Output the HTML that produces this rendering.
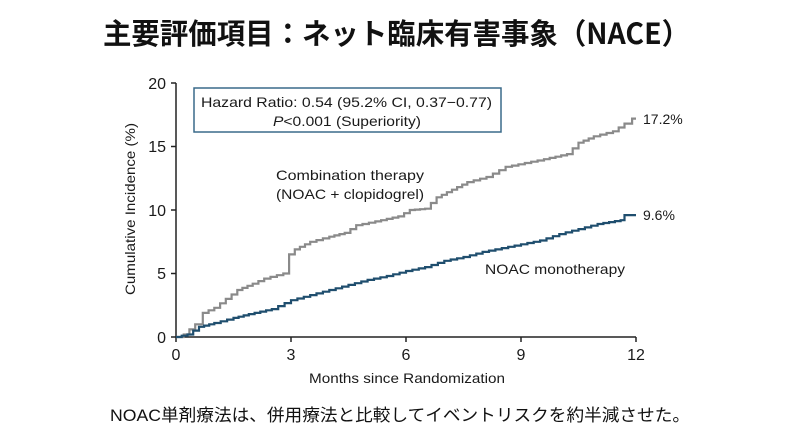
<!DOCTYPE html>
<html><head><meta charset="utf-8"><style>
html,body{margin:0;padding:0;background:#fff;}
svg{display:block}
</style></head><body>
<svg id="s" width="800" height="433" viewBox="0 0 800 433" xmlns="http://www.w3.org/2000/svg">
<rect width="800" height="433" fill="#fff"/>
<text x="103" y="44" font-family="'Noto Sans CJK JP',sans-serif" font-weight="bold" font-size="29" fill="#111" textLength="587" lengthAdjust="spacingAndGlyphs">主要評価項目：ネット臨床有害事象（NACE）</text>
<g font-family="'Liberation Sans',sans-serif" fill="#1a1a1a">
<line x1="176" y1="83" x2="176" y2="337" stroke="#222" stroke-width="1.5"/>
<line x1="176" y1="337" x2="636" y2="337" stroke="#222" stroke-width="1.5"/>
<g stroke="#222" stroke-width="1.5">
<line x1="171" y1="83" x2="176" y2="83"/><line x1="171" y1="146.5" x2="176" y2="146.5"/><line x1="171" y1="210" x2="176" y2="210"/><line x1="171" y1="273.5" x2="176" y2="273.5"/><line x1="171" y1="337" x2="176" y2="337"/>
<line x1="176" y1="337" x2="176" y2="342"/><line x1="291" y1="337" x2="291" y2="342"/><line x1="406" y1="337" x2="406" y2="342"/><line x1="521" y1="337" x2="521" y2="342"/><line x1="636" y1="337" x2="636" y2="342"/>
</g>
<g font-size="16" text-anchor="end">
<text x="166" y="89">20</text><text x="166" y="152">15</text><text x="166" y="216">10</text><text x="166" y="279">5</text><text x="166" y="343">0</text>
</g>
<g font-size="16" text-anchor="middle">
<text x="176" y="360">0</text><text x="291" y="360">3</text><text x="406" y="360">6</text><text x="521" y="360">9</text><text x="636" y="360">12</text>
</g>
<text x="309" y="383" font-size="14" textLength="196" lengthAdjust="spacingAndGlyphs">Months since Randomization</text>
<text transform="translate(135,295) rotate(-90)" font-size="14" textLength="172" lengthAdjust="spacingAndGlyphs">Cumulative Incidence (%)</text>
<rect x="194" y="88" width="307" height="44" fill="none" stroke="#3a6a8a" stroke-width="1.5"/>
<text x="201" y="107" font-size="14" textLength="291" lengthAdjust="spacingAndGlyphs">Hazard Ratio: 0.54 (95.2% CI, 0.37−0.77)</text>
<text x="273" y="126" font-size="14" textLength="148" lengthAdjust="spacingAndGlyphs"><tspan font-style="italic">P</tspan>&lt;0.001 (Superiority)</text>
<text x="276" y="180" font-size="14" textLength="148" lengthAdjust="spacingAndGlyphs">Combination therapy</text>
<text x="276" y="199" font-size="14" textLength="148" lengthAdjust="spacingAndGlyphs">(NOAC + clopidogrel)</text>
<text x="485" y="274" font-size="14" textLength="140" lengthAdjust="spacingAndGlyphs">NOAC monotherapy</text>
<text x="643" y="124" font-size="14">17.2%</text>
<text x="643" y="220" font-size="14">9.6%</text>
</g>
<path id="g" fill="none" stroke="#8a8a8a" stroke-width="2.2"/>
<path id="b" fill="none" stroke="#1f4e6e" stroke-width="2.2"/>
<text x="400" y="421" font-family="'Liberation Sans','Noto Sans CJK JP',sans-serif" font-size="17" text-anchor="middle" fill="#111" textLength="580" lengthAdjust="spacingAndGlyphs">NOAC単剤療法は、併用療法と比較してイベントリスクを約半減させた。</text>
</svg>
<script>
function X(m){return 176+m*38.33}function Y(v){return 337-v*12.7}
function build(pts){
 var d="M"+X(0)+","+Y(0);
 for(var i=1;i<pts.length;i++){
  var a=pts[i-1],b=pts[i],k=Math.max(1,Math.round((b[0]-a[0])/0.15));
  for(var j=1;j<=k;j++){
   var m=a[0]+(b[0]-a[0])*j/k,v=a[1]+(b[1]-a[1])*j/k;
   d+="H"+X(m).toFixed(1)+"V"+Y(v).toFixed(1);
  }
 }
 return d;
}
var g=[[0,0],[0.2,0.2],[0.5,1],[0.7,1.9],[1,2.3],[1.3,3],[1.6,3.7],[2,4.2],[2.3,4.6],[2.8,5],[2.95,6.5],[3.1,6.9],[3.5,7.5],[4,7.9],[4.4,8.2],[4.7,8.8],[5.2,9.1],[5.8,9.5],[6.1,10],[6.5,10.1],[6.8,11],[7.2,11.6],[7.6,12.2],[8.1,12.6],[8.6,13.4],[9.1,13.7],[9.6,14],[10.2,14.4],[10.5,15.3],[10.9,15.8],[11.4,16.2],[11.7,16.8],[11.9,17.2],[12,17.2]];
var b=[[0,0],[0.3,0.2],[0.6,0.8],[1,1.1],[1.5,1.5],[1.9,1.8],[2.5,2.2],[3,2.9],[3.5,3.3],[4,3.7],[4.5,4.1],[5,4.5],[5.5,4.8],[6,5.2],[6.5,5.5],[7,6],[7.5,6.3],[8,6.7],[8.5,7],[9,7.3],[9.5,7.6],[10,8.1],[10.5,8.5],[11,8.9],[11.6,9.2],[11.7,9.6],[12,9.6]];
document.getElementById("g").setAttribute("d",build(g));
document.getElementById("b").setAttribute("d",build(b));
</script>
</body></html>
